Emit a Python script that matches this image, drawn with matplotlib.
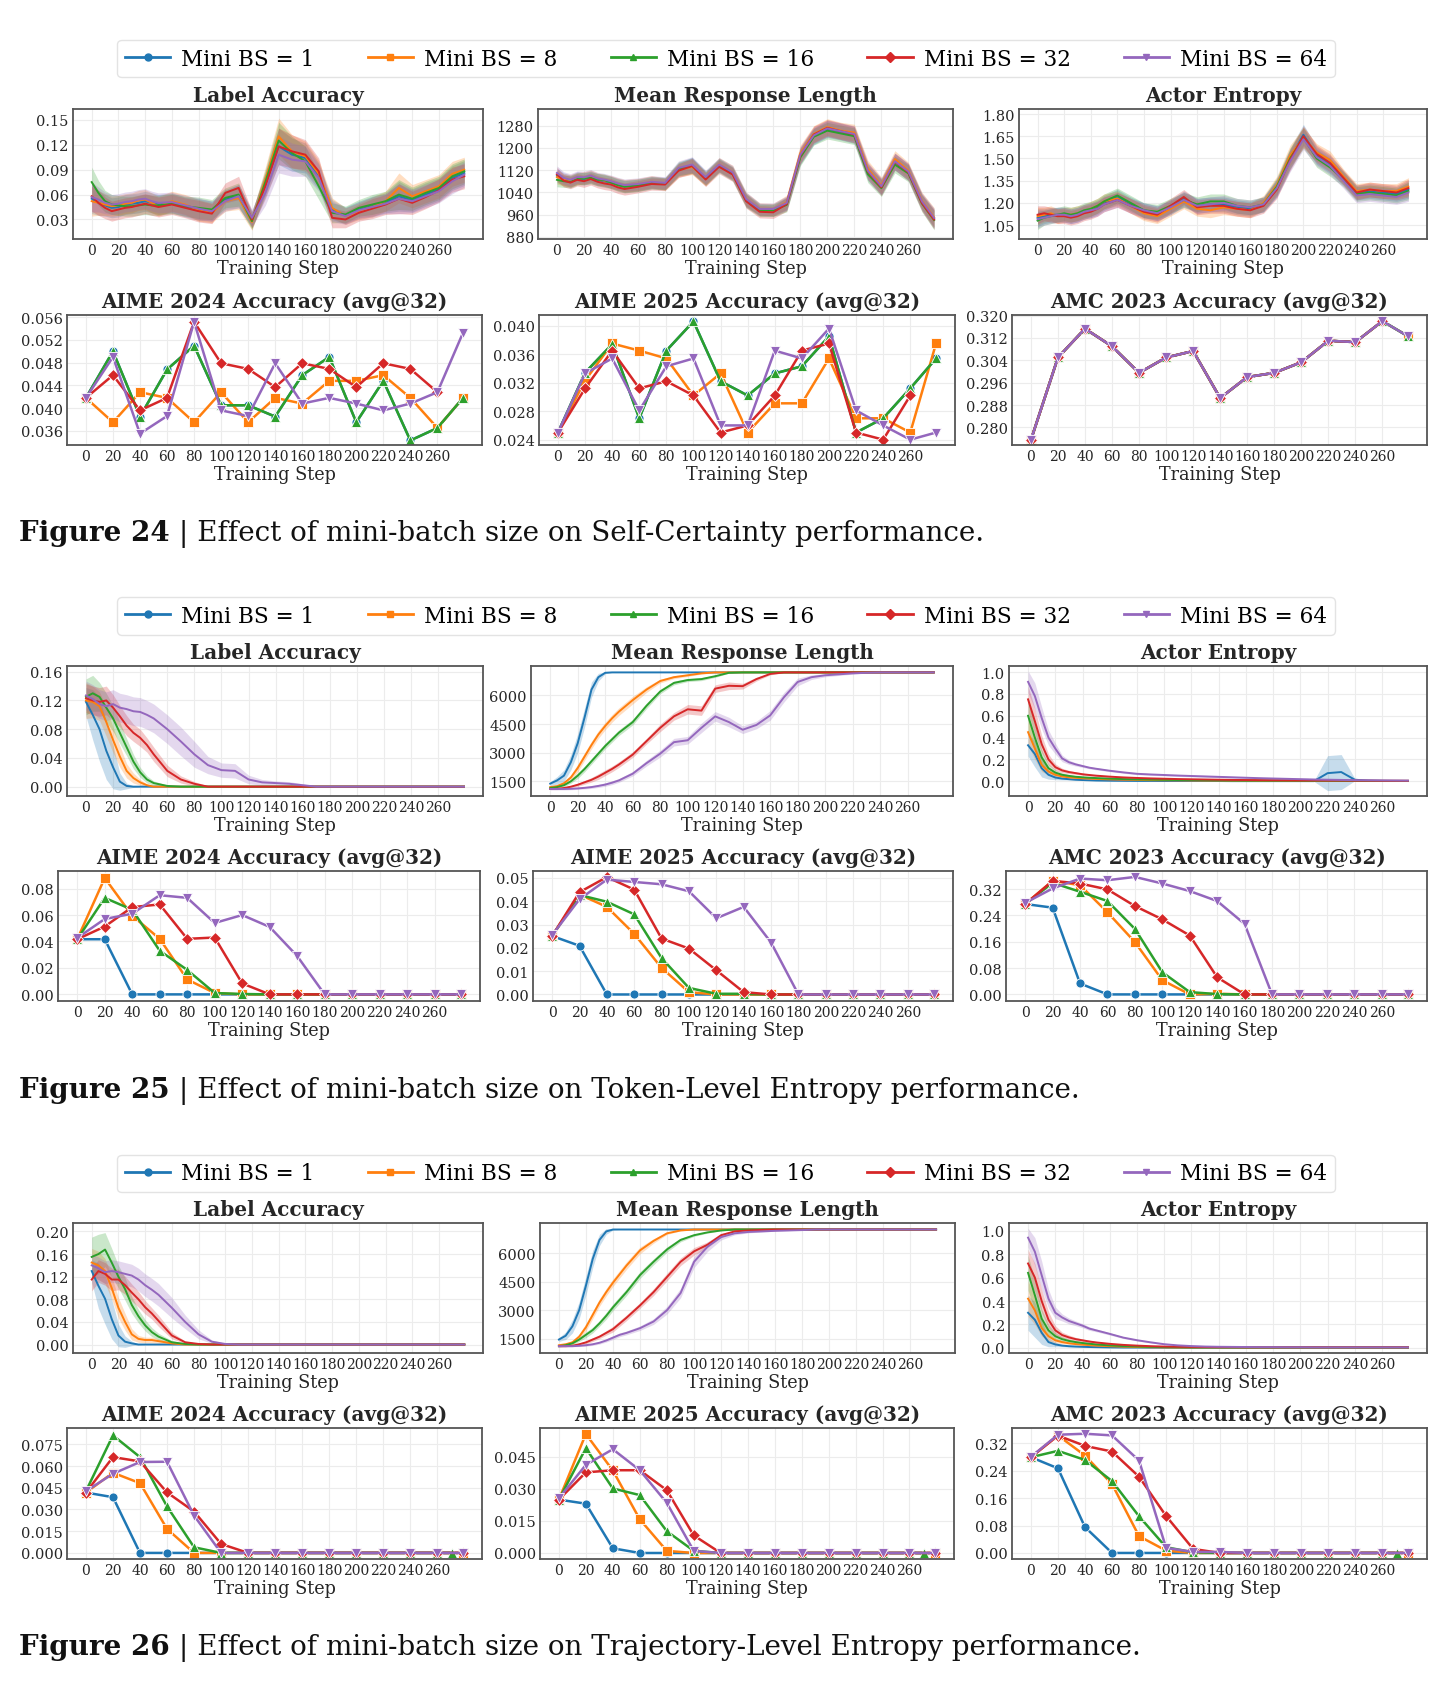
import numpy as np
import matplotlib
matplotlib.use('Agg')
import matplotlib.pyplot as plt
from matplotlib.lines import Line2D

plt.rcParams['font.family'] = ['DejaVu Serif']

labels = ['Mini BS = 1', 'Mini BS = 8', 'Mini BS = 16', 'Mini BS = 32', 'Mini BS = 64']
colors = ['#1f77b4', '#ff7f0e', '#2ca02c', '#d62728', '#9467bd']
markers = ['o', 's', '^', 'D', 'v']

# training-curve steps (top rows) and evaluation steps (bottom rows)
train_steps = [0, 5, 10, 15, 20, 25, 30, 35, 40, 45, 50, 60, 70, 80, 90, 100, 110, 120, 130, 140,
               150, 160, 170, 180, 190, 200, 210, 220, 230, 240, 250, 260, 270, 279]
eval_steps = [0, 20, 40, 60, 80, 100, 120, 140, 160, 180, 200, 220, 240, 260, 279]
eval_steps_f26_bs16 = [0, 20, 40, 60, 80, 100, 120, 140, 160, 180, 200, 220, 240, 260, 271]

# ---------------- Figure 24 : Self-Certainty ----------------
f24_label_acc = [
    [0.055, 0.050, 0.047, 0.044, 0.045, 0.048, 0.049, 0.050, 0.052, 0.050, 0.048, 0.050, 0.045, 0.042, 0.040, 0.054, 0.058,
     0.030, 0.072, 0.118, 0.108, 0.104, 0.082, 0.042, 0.035, 0.042, 0.046, 0.050, 0.058, 0.053, 0.060, 0.066, 0.080, 0.086],
    [0.052, 0.050, 0.048, 0.046, 0.047, 0.049, 0.050, 0.053, 0.054, 0.050, 0.046, 0.052, 0.048, 0.041, 0.038, 0.052, 0.056,
     0.027, 0.078, 0.130, 0.112, 0.106, 0.085, 0.044, 0.034, 0.040, 0.045, 0.052, 0.068, 0.058, 0.064, 0.070, 0.085, 0.090],
    [0.075, 0.062, 0.052, 0.048, 0.047, 0.046, 0.046, 0.047, 0.048, 0.047, 0.047, 0.049, 0.046, 0.044, 0.042, 0.056, 0.060,
     0.028, 0.075, 0.125, 0.110, 0.100, 0.070, 0.038, 0.036, 0.044, 0.048, 0.052, 0.060, 0.055, 0.062, 0.068, 0.082, 0.088],
    [0.058, 0.050, 0.044, 0.040, 0.042, 0.044, 0.045, 0.047, 0.049, 0.047, 0.045, 0.048, 0.044, 0.040, 0.037, 0.062, 0.068,
     0.030, 0.070, 0.118, 0.112, 0.108, 0.088, 0.032, 0.030, 0.038, 0.043, 0.048, 0.055, 0.050, 0.057, 0.065, 0.078, 0.082],
    [0.057, 0.054, 0.050, 0.048, 0.049, 0.051, 0.052, 0.054, 0.055, 0.052, 0.050, 0.051, 0.047, 0.043, 0.040, 0.052, 0.058,
     0.032, 0.062, 0.108, 0.102, 0.100, 0.080, 0.040, 0.034, 0.041, 0.045, 0.049, 0.055, 0.052, 0.058, 0.064, 0.076, 0.084],
]
f24_label_acc_sd = [0.018, 0.015, 0.013, 0.012, 0.012, 0.012, 0.012, 0.012, 0.012, 0.012, 0.012, 0.012, 0.012, 0.013,
                    0.012, 0.012, 0.014, 0.010, 0.015, 0.022, 0.020, 0.018, 0.016, 0.012, 0.010, 0.010, 0.012, 0.012,
                    0.018, 0.014, 0.014, 0.014, 0.015, 0.015]
f24_resp_len = [
    [1100, 1088, 1080, 1092, 1088, 1095, 1085, 1080, 1076, 1068, 1062, 1066, 1075, 1072, 1122, 1138, 1092,
     1138, 1108, 1012, 978, 976, 1000, 1170, 1242, 1268, 1258, 1246, 1112, 1060, 1150, 1112, 1005, 945],
    [1095, 1085, 1082, 1090, 1092, 1098, 1088, 1082, 1078, 1070, 1064, 1068, 1078, 1070, 1120, 1132, 1088,
     1140, 1112, 1015, 980, 978, 1005, 1180, 1250, 1275, 1262, 1255, 1125, 1065, 1160, 1118, 1010, 950],
    [1085, 1080, 1078, 1088, 1090, 1092, 1086, 1084, 1075, 1066, 1060, 1065, 1074, 1070, 1125, 1136, 1090,
     1136, 1106, 1010, 975, 975, 995, 1165, 1240, 1262, 1252, 1242, 1105, 1055, 1140, 1108, 1000, 940],
    [1105, 1082, 1075, 1085, 1080, 1088, 1078, 1072, 1068, 1058, 1052, 1060, 1070, 1068, 1118, 1135, 1086,
     1132, 1104, 1008, 970, 968, 998, 1172, 1248, 1272, 1260, 1248, 1115, 1058, 1150, 1112, 1002, 942],
    [1110, 1092, 1085, 1095, 1094, 1100, 1090, 1086, 1080, 1072, 1066, 1070, 1078, 1074, 1128, 1140, 1095,
     1140, 1112, 1016, 980, 980, 1002, 1175, 1245, 1270, 1260, 1250, 1118, 1062, 1152, 1115, 1008, 948],
]
f24_resp_len_sd = [25, 22, 22, 22, 22, 22, 22, 22, 22, 22, 22, 22, 22, 22, 25, 28, 25, 25, 25, 25, 22, 22, 25,
                   30, 30, 30, 30, 30, 30, 30, 30, 30, 30, 35]
f24_entropy = [
    [1.10, 1.11, 1.12, 1.12, 1.12, 1.11, 1.12, 1.14, 1.15, 1.17, 1.20, 1.24, 1.19, 1.15, 1.13, 1.17, 1.23,
     1.18, 1.19, 1.19, 1.17, 1.16, 1.19, 1.30, 1.50, 1.66, 1.52, 1.46, 1.37, 1.27, 1.28, 1.27, 1.26, 1.29],
    [1.11, 1.12, 1.13, 1.11, 1.12, 1.12, 1.13, 1.14, 1.16, 1.18, 1.21, 1.23, 1.18, 1.13, 1.11, 1.16, 1.21,
     1.16, 1.15, 1.17, 1.16, 1.15, 1.20, 1.32, 1.52, 1.64, 1.54, 1.49, 1.38, 1.28, 1.29, 1.28, 1.28, 1.31],
    [1.08, 1.10, 1.11, 1.12, 1.13, 1.12, 1.13, 1.15, 1.16, 1.18, 1.21, 1.25, 1.20, 1.15, 1.14, 1.18, 1.22,
     1.19, 1.21, 1.21, 1.18, 1.17, 1.19, 1.31, 1.50, 1.64, 1.50, 1.44, 1.36, 1.26, 1.27, 1.26, 1.25, 1.28],
    [1.12, 1.13, 1.12, 1.11, 1.11, 1.10, 1.11, 1.13, 1.14, 1.16, 1.19, 1.22, 1.18, 1.14, 1.12, 1.18, 1.24,
     1.17, 1.18, 1.18, 1.16, 1.15, 1.18, 1.29, 1.49, 1.65, 1.53, 1.47, 1.37, 1.27, 1.29, 1.28, 1.27, 1.30],
    [1.09, 1.10, 1.11, 1.12, 1.12, 1.11, 1.12, 1.14, 1.15, 1.16, 1.19, 1.22, 1.18, 1.15, 1.13, 1.17, 1.22,
     1.18, 1.19, 1.20, 1.18, 1.17, 1.19, 1.30, 1.48, 1.63, 1.51, 1.45, 1.35, 1.25, 1.26, 1.25, 1.24, 1.27],
]
f24_entropy_sd = [0.06, 0.05, 0.05, 0.05, 0.05, 0.05, 0.05, 0.05, 0.05, 0.05, 0.05, 0.05, 0.05, 0.05, 0.05,
                  0.05, 0.05, 0.05, 0.05, 0.05, 0.05, 0.05, 0.05, 0.06, 0.07, 0.07, 0.06, 0.06, 0.05, 0.05,
                  0.05, 0.05, 0.05, 0.06]
f24_aime24 = [
    [0.0418, 0.0500, 0.0385, 0.0468, 0.0510, 0.0405, 0.0405, 0.0385, 0.0458, 0.0490, 0.0375, 0.0448, 0.0343, 0.0365, 0.0418],
    [0.0418, 0.0375, 0.0428, 0.0418, 0.0375, 0.0428, 0.0375, 0.0418, 0.0408, 0.0448, 0.0448, 0.0458, 0.0418, 0.0365, 0.0418],
    [0.0418, 0.0500, 0.0385, 0.0468, 0.0510, 0.0405, 0.0405, 0.0385, 0.0458, 0.0490, 0.0375, 0.0448, 0.0343, 0.0365, 0.0418],
    [0.0418, 0.0458, 0.0396, 0.0418, 0.0552, 0.0479, 0.0469, 0.0437, 0.0479, 0.0469, 0.0437, 0.0479, 0.0469, 0.0428, None],
    [0.0418, 0.0490, 0.0355, 0.0386, 0.0552, 0.0396, 0.0386, 0.0479, 0.0408, 0.0418, 0.0408, 0.0396, 0.0408, 0.0428, 0.0533],
]
f24_aime25 = [
    [0.0250, 0.0334, 0.0374, 0.0270, 0.0365, 0.0406, 0.0322, 0.0302, 0.0333, 0.0343, 0.0385, 0.0250, 0.0270, 0.0312, 0.0354],
    [0.0250, 0.0323, 0.0375, 0.0365, 0.0354, 0.0302, 0.0333, 0.0250, 0.0291, 0.0291, 0.0354, 0.0270, 0.0270, 0.0250, 0.0375],
    [0.0250, 0.0334, 0.0374, 0.0270, 0.0365, 0.0406, 0.0322, 0.0302, 0.0333, 0.0343, 0.0385, 0.0250, 0.0270, 0.0312, 0.0354],
    [0.0250, 0.0312, 0.0365, 0.0312, 0.0322, 0.0302, 0.0250, 0.0260, 0.0302, 0.0365, 0.0375, 0.0250, 0.0240, 0.0302, None],
    [0.0250, 0.0333, 0.0354, 0.0281, 0.0343, 0.0354, 0.0260, 0.0260, 0.0365, 0.0354, 0.0396, 0.0281, 0.0260, 0.0240, 0.0250],
]
f24_amc23 = [
    [0.2755, 0.3050, 0.3153, 0.3090, 0.2995, 0.3050, 0.3073, 0.2905, 0.2980, 0.2995, 0.3033, 0.3110, 0.3105, 0.3180, 0.3126],
    [0.2755, 0.3050, 0.3153, 0.3090, 0.2995, 0.3050, 0.3073, 0.2905, 0.2980, 0.2995, 0.3033, 0.3110, 0.3105, 0.3180, 0.3126],
    [0.2755, 0.3050, 0.3153, 0.3090, 0.2995, 0.3050, 0.3073, 0.2905, 0.2980, 0.2995, 0.3033, 0.3110, 0.3105, 0.3180, 0.3126],
    [0.2755, 0.3050, 0.3153, 0.3090, 0.2995, 0.3050, 0.3073, 0.2905, 0.2980, 0.2995, 0.3033, 0.3110, 0.3105, 0.3180, None],
    [0.2755, 0.3050, 0.3153, 0.3090, 0.2995, 0.3050, 0.3073, 0.2905, 0.2980, 0.2995, 0.3033, 0.3110, 0.3105, 0.3180, 0.3126],
]

# ---------------- Figure 25 : Token-Level Entropy ----------------
f25_label_acc = [
    [0.118, 0.100, 0.080, 0.050, 0.027, 0.007, 0.001] + [0.0] * 27,
    [0.120, 0.118, 0.112, 0.090, 0.065, 0.042, 0.022, 0.012, 0.006, 0.002] + [0.0] * 24,
    [0.125, 0.130, 0.125, 0.110, 0.095, 0.075, 0.055, 0.035, 0.020, 0.010, 0.005, 0.001] + [0.0] * 22,
    [0.123, 0.120, 0.118, 0.120, 0.110, 0.098, 0.085, 0.075, 0.068, 0.058, 0.045, 0.022, 0.010, 0.004] + [0.0] * 20,
    [0.127, 0.122, 0.115, 0.112, 0.115, 0.110, 0.108, 0.105, 0.104, 0.100, 0.095, 0.080, 0.063, 0.045, 0.030,
     0.023, 0.022, 0.010, 0.006, 0.005, 0.004, 0.002] + [0.0] * 12,
]
f25_label_acc_sd = [
    [0.020, 0.035, 0.045, 0.040, 0.030, 0.012, 0.004, 0.001] + [0.0] * 26,
    [0.025, 0.022, 0.020, 0.020, 0.018, 0.015, 0.010, 0.007, 0.004, 0.002, 0.001] + [0.0] * 23,
    [0.025, 0.025, 0.020, 0.020, 0.018, 0.015, 0.012, 0.010, 0.007, 0.005, 0.003, 0.001] + [0.0] * 22,
    [0.020, 0.020, 0.020, 0.020, 0.018, 0.015, 0.014, 0.012, 0.012, 0.010, 0.010, 0.008, 0.005, 0.003, 0.001] + [0.0] * 19,
    [0.020, 0.020, 0.020, 0.020, 0.020, 0.020, 0.020, 0.020, 0.020, 0.020, 0.020, 0.020, 0.020, 0.018, 0.012,
     0.010, 0.010, 0.006, 0.004, 0.003, 0.003, 0.002] + [0.0] * 12,
]
f25_resp_len = [
    [1380, 1550, 1800, 2500, 3500, 4850, 6300, 6950, 7180] + [7200] * 25,
    [1200, 1250, 1400, 1700, 2200, 2800, 3400, 3950, 4400, 4800, 5150, 5750, 6300, 6750, 6950, 7050, 7150] + [7200] * 17,
    [1150, 1200, 1300, 1500, 1800, 2150, 2550, 2950, 3350, 3700, 4050, 4600, 5450, 6200, 6650, 6800, 6850,
     7000, 7180] + [7200] * 15,
    [1100, 1110, 1150, 1220, 1320, 1450, 1580, 1750, 1950, 2150, 2380, 2900, 3600, 4300, 4900, 5270, 5200,
     6350, 6500, 6480, 6850, 7120] + [7200] * 12,
    [1100, 1100, 1100, 1110, 1130, 1160, 1200, 1260, 1330, 1430, 1550, 1900, 2450, 2950, 3550, 3650, 4300,
     4900, 4600, 4200, 4450, 4950, 5900, 6700, 6950, 7050, 7100, 7150, 7180] + [7200] * 5,
]
f25_resp_len_sd = [
    [100, 200, 300, 400, 500, 500, 400, 200, 50] + [0] * 25,
    [50, 80, 100, 150, 200, 200, 200, 200, 200, 200, 200, 200, 150, 100, 80, 60, 40, 20] + [0] * 16,
    [50, 60, 80, 100, 150, 150, 150, 150, 150, 150, 150, 150, 150, 120, 100, 80, 80, 60, 20] + [0] * 15,
    [30, 40, 50, 60, 80, 100, 120, 150, 150, 150, 150, 150, 150, 200, 200, 250, 250, 200, 200, 150, 100, 50, 20] + [0] * 11,
    [50, 50, 50, 50, 50, 60, 70, 80, 90, 100, 100, 120, 150, 180, 200, 200, 250, 250, 250, 200, 200, 250, 250,
     200, 120, 80, 60, 40, 20] + [0] * 5,
]
f25_entropy = [
    [0.33, 0.25, 0.12, 0.06, 0.035, 0.025, 0.020, 0.015, 0.012, 0.010, 0.008, 0.006, 0.005, 0.004, 0.004, 0.003,
     0.003, 0.003, 0.003, 0.003, 0.002, 0.002, 0.002, 0.002, 0.002, 0.002, 0.002, 0.075, 0.085, 0.015, 0.006,
     0.004, 0.003, 0.003],
    [0.45, 0.30, 0.15, 0.09, 0.060, 0.045, 0.037, 0.032, 0.028, 0.025, 0.022, 0.018, 0.015, 0.013, 0.011, 0.010,
     0.009, 0.008, 0.007, 0.007, 0.006, 0.006, 0.005, 0.005, 0.005, 0.004, 0.004, 0.004, 0.004, 0.003, 0.003,
     0.003, 0.003, 0.003],
    [0.60, 0.40, 0.22, 0.12, 0.080, 0.060, 0.050, 0.042, 0.037, 0.033, 0.030, 0.025, 0.021, 0.018, 0.016, 0.014,
     0.012, 0.011, 0.010, 0.009, 0.008, 0.007, 0.007, 0.006, 0.006, 0.005, 0.005, 0.005, 0.004, 0.004, 0.004,
     0.004, 0.004, 0.004],
    [0.75, 0.55, 0.34, 0.20, 0.130, 0.100, 0.085, 0.075, 0.065, 0.058, 0.052, 0.043, 0.036, 0.031, 0.027, 0.024,
     0.021, 0.019, 0.017, 0.015, 0.013, 0.012, 0.011, 0.010, 0.009, 0.008, 0.008, 0.007, 0.007, 0.006, 0.006,
     0.005, 0.005, 0.005],
    [0.91, 0.78, 0.58, 0.40, 0.300, 0.210, 0.175, 0.155, 0.140, 0.125, 0.115, 0.097, 0.082, 0.069, 0.063, 0.058,
     0.053, 0.049, 0.045, 0.041, 0.037, 0.033, 0.029, 0.026, 0.023, 0.020, 0.017, 0.015, 0.013, 0.011, 0.010,
     0.009, 0.008, 0.007],
]
f25_entropy_sd = [
    [0.10, 0.12, 0.08, 0.04, 0.02, 0.012, 0.008, 0.006, 0.005, 0.004, 0.004] + [0.003] * 16 + [0.16, 0.16, 0.01]
    + [0.003] * 4,
    [0.12, 0.10, 0.06, 0.03, 0.02, 0.015, 0.010, 0.008, 0.006, 0.005, 0.004] + [0.003] * 23,
    [0.14, 0.12, 0.07, 0.04, 0.025, 0.018, 0.012, 0.010, 0.008, 0.006, 0.005] + [0.004] * 23,
    [0.12, 0.12, 0.08, 0.05, 0.03, 0.020, 0.015, 0.012, 0.010, 0.008, 0.007] + [0.005] * 23,
    [0.10, 0.12, 0.10, 0.07, 0.05, 0.030, 0.020, 0.015, 0.012, 0.010, 0.010] + [0.008] * 23,
]
f25_aime24 = [
    [0.0417, 0.0417] + [0.0] * 13,
    [0.0417, 0.0880, 0.0595, 0.0420, 0.0113, 0.0010] + [0.0] * 9,
    [0.0417, 0.0730, 0.0640, 0.0330, 0.0185, 0.0010, 0.0003] + [0.0] * 8,
    [0.0417, 0.0513, 0.0660, 0.0680, 0.0420, 0.0430, 0.0083] + [0.0] * 8,
    [0.0427, 0.0570, 0.0610, 0.0750, 0.0730, 0.0540, 0.0600, 0.0510, 0.0290] + [0.0] * 6,
]
f25_aime25 = [
    [0.0251, 0.0209] + [0.0] * 13,
    [0.0251, 0.0429, 0.0376, 0.0260, 0.0114, 0.0010] + [0.0] * 9,
    [0.0251, 0.0427, 0.0398, 0.0344, 0.0156, 0.0028, 0.0003, 0.0003] + [0.0] * 7,
    [0.0251, 0.0439, 0.0504, 0.0450, 0.0240, 0.0197, 0.0104, 0.0010] + [0.0] * 7,
    [0.0255, 0.0409, 0.0493, 0.0483, 0.0473, 0.0443, 0.0327, 0.0376, 0.0223] + [0.0] * 6,
]
f25_amc23 = [
    [0.2747, 0.2636, 0.0332] + [0.0] * 12,
    [0.2747, 0.3450, 0.3320, 0.2495, 0.1590, 0.0433, 0.0, 0.0020] + [0.0] * 7,
    [0.2747, 0.3390, 0.3120, 0.2837, 0.1990, 0.0674, 0.0070, 0.0010] + [0.0] * 7,
    [0.2747, 0.3450, 0.3370, 0.3190, 0.2686, 0.2280, 0.1790, 0.0520] + [0.0] * 7,
    [0.2780, 0.3220, 0.3520, 0.3470, 0.3570, 0.3370, 0.3140, 0.2837, 0.2140] + [0.0] * 6,
]

# ---------------- Figure 26 : Trajectory-Level Entropy ----------------
f26_label_acc = [
    [0.130, 0.104, 0.081, 0.045, 0.016, 0.005, 0.002] + [0.0] * 27,
    [0.145, 0.140, 0.130, 0.100, 0.065, 0.040, 0.018, 0.010, 0.008, 0.008, 0.006, 0.002] + [0.0] * 22,
    [0.155, 0.160, 0.168, 0.145, 0.120, 0.098, 0.070, 0.050, 0.034, 0.022, 0.014, 0.004, 0.001] + [0.0] * 21,
    [0.115, 0.130, 0.125, 0.115, 0.115, 0.105, 0.092, 0.080, 0.066, 0.055, 0.042, 0.016, 0.004, 0.001] + [0.0] * 20,
    [0.140, 0.135, 0.128, 0.130, 0.128, 0.125, 0.122, 0.115, 0.105, 0.097, 0.088, 0.065, 0.040, 0.018, 0.005,
     0.001] + [0.0] * 18,
]
f26_label_acc_sd = [
    [0.020, 0.040, 0.045, 0.035, 0.020, 0.010, 0.004, 0.001] + [0.0] * 26,
    [0.025, 0.025, 0.022, 0.020, 0.018, 0.015, 0.010, 0.006, 0.005, 0.005, 0.004, 0.002] + [0.0] * 22,
    [0.035, 0.035, 0.030, 0.025, 0.020, 0.020, 0.015, 0.012, 0.010, 0.008, 0.006, 0.003, 0.001] + [0.0] * 21,
    [0.020, 0.020, 0.020, 0.020, 0.018, 0.016, 0.015, 0.014, 0.012, 0.010, 0.010, 0.006, 0.002, 0.001] + [0.0] * 20,
    [0.020, 0.020, 0.020, 0.020, 0.020, 0.020, 0.020, 0.020, 0.020, 0.020, 0.020, 0.018, 0.012, 0.008, 0.003,
     0.001] + [0.0] * 18,
]
f26_resp_len = [
    [1450, 1650, 2150, 3000, 4300, 5700, 6700, 7150] + [7250] * 26,
    [1150, 1200, 1300, 1600, 2100, 2750, 3400, 3950, 4450, 4900, 5350, 6150, 6650, 7050, 7200] + [7250] * 19,
    [1100, 1150, 1250, 1450, 1700, 1950, 2300, 2700, 3150, 3550, 3950, 4850, 5550, 6200, 6700, 6950, 7100,
     7200] + [7250] * 16,
    [1100, 1100, 1120, 1200, 1300, 1450, 1600, 1800, 2000, 2300, 2600, 3250, 3950, 4750, 5550, 6100, 6450,
     6950, 7150, 7200, 7230] + [7250] * 13,
    [1100, 1100, 1100, 1120, 1150, 1200, 1280, 1400, 1550, 1700, 1800, 2050, 2400, 3000, 3900, 5550, 6350,
     6850, 7050, 7120, 7150, 7180, 7200, 7220] + [7250] * 10,
]
f26_resp_len_sd = [
    [100, 200, 350, 450, 500, 450, 300, 150, 30] + [0] * 25,
    [50, 60, 100, 150, 200, 200, 200, 200, 200, 200, 200, 180, 120, 60, 20] + [0] * 19,
    [50, 50, 80, 100, 150, 150, 150, 180, 180, 180, 180, 180, 160, 140, 100, 60, 40, 20] + [0] * 16,
    [30, 30, 40, 60, 80, 100, 100, 120, 150, 150, 150, 150, 180, 200, 200, 200, 150, 100, 50, 20, 10] + [0] * 13,
    [30, 30, 30, 40, 50, 60, 70, 80, 100, 100, 100, 120, 150, 200, 250, 300, 250, 150, 80, 50, 30, 20, 10] + [0] * 11,
]
f26_entropy = [
    [0.30, 0.24, 0.13, 0.05, 0.030, 0.020, 0.015, 0.012, 0.010, 0.008, 0.007, 0.005, 0.004, 0.004, 0.003, 0.003,
     0.003] + [0.002] * 17,
    [0.42, 0.32, 0.17, 0.10, 0.065, 0.050, 0.040, 0.033, 0.028, 0.024, 0.020, 0.015, 0.011, 0.008, 0.006, 0.005]
    + [0.004] * 18,
    [0.64, 0.45, 0.25, 0.15, 0.100, 0.075, 0.060, 0.050, 0.042, 0.036, 0.030, 0.022, 0.016, 0.012, 0.009, 0.007,
     0.006] + [0.005] * 17,
    [0.72, 0.60, 0.40, 0.24, 0.150, 0.110, 0.090, 0.075, 0.065, 0.055, 0.047, 0.035, 0.026, 0.020, 0.015, 0.012,
     0.010, 0.009, 0.008, 0.007, 0.007] + [0.006] * 13,
    [0.94, 0.82, 0.62, 0.42, 0.300, 0.260, 0.230, 0.210, 0.190, 0.165, 0.150, 0.120, 0.088, 0.066, 0.048, 0.032,
     0.022, 0.016, 0.012, 0.010, 0.009, 0.008, 0.007, 0.007, 0.006, 0.006] + [0.005] * 8,
]
f26_entropy_sd = [
    [0.15, 0.15, 0.10, 0.04, 0.02, 0.010, 0.008, 0.006, 0.005, 0.004, 0.004] + [0.003] * 23,
    [0.15, 0.12, 0.07, 0.04, 0.02, 0.015, 0.010, 0.008, 0.006, 0.005, 0.004] + [0.003] * 23,
    [0.15, 0.13, 0.08, 0.05, 0.03, 0.020, 0.015, 0.012, 0.010, 0.008, 0.006] + [0.005] * 23,
    [0.12, 0.12, 0.10, 0.07, 0.04, 0.025, 0.020, 0.015, 0.012, 0.010, 0.008] + [0.006] * 23,
    [0.08, 0.12, 0.12, 0.08, 0.05, 0.030, 0.025, 0.020, 0.018, 0.015, 0.012, 0.010, 0.008, 0.006, 0.005]
    + [0.004] * 19,
]
f26_aime24 = [
    [0.0417, 0.0385] + [0.0] * 13,
    [0.0417, 0.0554, 0.0482, 0.0166] + [0.0] * 11,
    [0.0427, 0.0812, 0.0662, 0.0321, 0.0039] + [0.0] * 10,
    [0.0417, 0.0662, 0.0632, 0.0418, 0.0286, 0.0062] + [0.0] * 9,
    [0.0427, 0.0547, 0.0628, 0.0630, 0.0258] + [0.0] * 10,
]
f26_aime25 = [
    [0.0249, 0.0230, 0.0022] + [0.0] * 12,
    [0.0249, 0.0555, 0.0385, 0.0157, 0.0010] + [0.0] * 10,
    [0.0249, 0.0489, 0.0301, 0.0270, 0.0102, 0.0010] + [0.0] * 9,
    [0.0249, 0.0376, 0.0386, 0.0386, 0.0293, 0.0082] + [0.0] * 9,
    [0.0255, 0.0411, 0.0484, 0.0386, 0.0234, 0.0010] + [0.0] * 9,
]
f26_amc23 = [
    [0.2790, 0.2466, 0.0753] + [0.0] * 12,
    [0.2790, 0.3425, 0.2838, 0.2006, 0.0489, 0.0068] + [0.0] * 9,
    [0.2790, 0.2975, 0.2710, 0.2094, 0.1067, 0.0166, 0.0020] + [0.0] * 8,
    [0.2790, 0.3420, 0.3120, 0.2955, 0.2220, 0.1076, 0.0117] + [0.0] * 8,
    [0.2800, 0.3445, 0.3474, 0.3425, 0.2690, 0.0147, 0.0030, 0.0030] + [0.0] * 7,
]

W, H = 1453, 1683
fig = plt.figure(figsize=(W / 100, H / 100), dpi=100)


def add_axes_px(x0, x1, y0, y1):
    return fig.add_axes([x0 / W, 1 - y1 / H, (x1 - x0) / W, (y1 - y0) / H])


def style_axes(ax, title, ylim, yticks, fmt):
    ax.set_title(title, fontsize=14.4, fontweight='bold', color='#262626', pad=6)
    ax.set_xlim(-14, 293)
    ax.set_xticks(range(0, 261, 20))
    ax.set_ylim(*ylim)
    ax.set_yticks(yticks)
    ax.set_yticklabels([fmt.format(v) for v in yticks])
    ax.set_xlabel('Training Step', fontsize=12.7, labelpad=1, color='#262626')
    ax.grid(True, color='#ececec', lw=0.8)
    ax.set_axisbelow(True)
    ax.tick_params(length=0, pad=3, colors='#262626')
    ax.tick_params(axis='x', labelsize=10)
    ax.tick_params(axis='y', labelsize=10.5)
    for sp in ax.spines.values():
        sp.set_color('#555555')
        sp.set_linewidth(1.3)


def draw_curves(ax, data, sd):
    x = np.array(train_steps)
    for i in range(5):
        y = np.array(data[i], dtype=float)
        s = np.array(sd[i] if np.ndim(sd) == 2 else sd, dtype=float)
        ax.fill_between(x, y - s, y + s, color=colors[i], alpha=0.25, lw=0)
        ax.plot(x, y, color=colors[i], lw=1.4)


def draw_evals(ax, data, steps_per_series):
    for i in range(5):
        y = np.array(data[i], dtype=float)
        ax.plot(steps_per_series[i], y, color=colors[i], marker=markers[i], lw=1.8, ms=6.5,
                mec='white', mew=0.6)


def caption(y_px, num, text):
    t = fig.text(19 / W, 1 - y_px / H, f'Figure {num}', fontsize=20, fontweight='bold',
                 va='center', ha='left', color='#111111')
    bb = t.get_window_extent(renderer=fig.canvas.get_renderer())
    fig.text(bb.x1 / W, 1 - y_px / H, f' | {text}', fontsize=20, va='center', ha='left', color='#111111')


blocks = [
    dict(num=24, text='Effect of mini-batch size on Self-Certainty performance.',
         legend_y=59.5, row1=(110, 240), row2=(316, 446), caption_y=534,
         cols1=[(73, 483), (538, 953), (1019, 1427)], cols2=[(67, 482), (539, 955), (1012, 1427)],
         top=[(f24_label_acc, f24_label_acc_sd, (0.0065, 0.163), [0.03, 0.06, 0.09, 0.12, 0.15], '{:.2f}'),
              (f24_resp_len, f24_resp_len_sd, (872, 1340), [880, 960, 1040, 1120, 1200, 1280], '{:.0f}'),
              (f24_entropy, f24_entropy_sd, (0.956, 1.834), [1.05, 1.20, 1.35, 1.50, 1.65, 1.80], '{:.2f}')],
         bottom=[(f24_aime24, (0.0335, 0.0564), [0.036, 0.040, 0.044, 0.048, 0.052, 0.056], '{:.3f}'),
                 (f24_aime25, (0.02325, 0.0415), [0.024, 0.028, 0.032, 0.036, 0.040], '{:.3f}'),
                 (f24_amc23, (0.2737, 0.3202), [0.280, 0.288, 0.296, 0.304, 0.312, 0.320], '{:.3f}')],
         steps=[eval_steps] * 5),
    dict(num=25, text='Effect of mini-batch size on Token-Level Entropy performance.',
         legend_y=617, row1=(667, 797), row2=(872, 1002), caption_y=1091,
         cols1=[(67, 483), (531, 953), (1009, 1427)], cols2=[(58, 480), (533, 953), (1006, 1427)],
         top=[(f25_label_acc, f25_label_acc_sd, (-0.013, 0.168), [0.0, 0.04, 0.08, 0.12, 0.16], '{:.2f}'),
              (f25_resp_len, f25_resp_len_sd, (733, 7535), [1500, 3000, 4500, 6000], '{:.0f}'),
              (f25_entropy, f25_entropy_sd, (-0.134, 1.055), [0.0, 0.2, 0.4, 0.6, 0.8, 1.0], '{:.1f}')],
         bottom=[(f25_aime24, (-0.005, 0.0933), [0.0, 0.02, 0.04, 0.06, 0.08], '{:.2f}'),
                 (f25_aime25, (-0.0028, 0.053), [0.0, 0.01, 0.02, 0.03, 0.04, 0.05], '{:.2f}'),
                 (f25_amc23, (-0.020, 0.375), [0.0, 0.08, 0.16, 0.24, 0.32], '{:.2f}')],
         steps=[eval_steps] * 5),
    dict(num=26, text='Effect of mini-batch size on Trajectory-Level Entropy performance.',
         legend_y=1174.5, row1=(1224, 1354), row2=(1429, 1560), caption_y=1648,
         cols1=[(73, 483), (540, 955), (1009, 1427)], cols2=[(67, 482), (540, 954), (1012, 1427)],
         top=[(f26_label_acc, f26_label_acc_sd, (-0.015, 0.215), [0.0, 0.04, 0.08, 0.12, 0.16, 0.20], '{:.2f}'),
              (f26_resp_len, f26_resp_len_sd, (740, 7593), [1500, 3000, 4500, 6000], '{:.0f}'),
              (f26_entropy, f26_entropy_sd, (-0.043, 1.065), [0.0, 0.2, 0.4, 0.6, 0.8, 1.0], '{:.1f}')],
         bottom=[(f26_aime24, (-0.0042, 0.0863), [0.0, 0.015, 0.030, 0.045, 0.060, 0.075], '{:.3f}'),
                 (f26_aime25, (-0.0028, 0.0583), [0.0, 0.015, 0.030, 0.045], '{:.3f}'),
                 (f26_amc23, (-0.0176, 0.3641), [0.0, 0.08, 0.16, 0.24, 0.32], '{:.2f}')],
         steps=[eval_steps, eval_steps, eval_steps_f26_bs16, eval_steps, eval_steps]),
]

top_titles = ['Label Accuracy', 'Mean Response Length', 'Actor Entropy']
bottom_titles = ['AIME 2024 Accuracy (avg@32)', 'AIME 2025 Accuracy (avg@32)', 'AMC 2023 Accuracy (avg@32)']

handles = [Line2D([], [], color=colors[i], marker=markers[i], lw=2, ms=5) for i in range(5)]

for b in blocks:
    for j in range(3):
        data, sd, ylim, yt, fmt = b['top'][j]
        ax = add_axes_px(b['cols1'][j][0], b['cols1'][j][1], *b['row1'])
        draw_curves(ax, data, sd)
        style_axes(ax, top_titles[j], ylim, yt, fmt)

        data, ylim, yt, fmt = b['bottom'][j]
        ax = add_axes_px(b['cols2'][j][0], b['cols2'][j][1], *b['row2'])
        draw_evals(ax, data, b['steps'])
        style_axes(ax, bottom_titles[j], ylim, yt, fmt)

    leg = fig.legend(handles, labels, loc='center', bbox_to_anchor=(726 / W, 1 - b['legend_y'] / H),
                     ncol=5, fontsize=15.6, frameon=True, fancybox=True, handlelength=2.1,
                     columnspacing=2.45, handletextpad=0.5, borderpad=0.35)
    leg.get_frame().set_edgecolor('#dddddd')
    leg.get_frame().set_linewidth(1.0)
    caption(b['caption_y'], b['num'], b['text'])

fig.savefig('out.png', dpi=100, facecolor='white')
